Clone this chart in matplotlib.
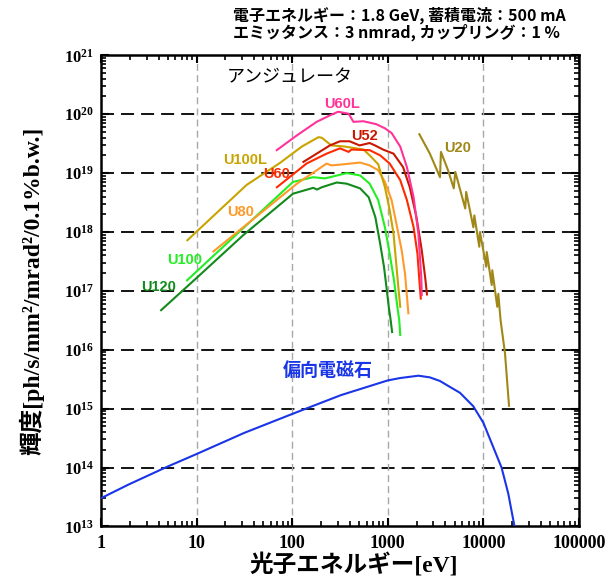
import math
import matplotlib
matplotlib.use("Agg")
import matplotlib.pyplot as plt
from matplotlib.ticker import LogLocator, FuncFormatter, NullFormatter

plt.rcParams['mathtext.fontset'] = 'custom'
plt.rcParams['mathtext.rm'] = 'Liberation Serif:bold'
plt.rcParams['mathtext.bf'] = 'Liberation Serif:bold'

# ---- data (photon energy [eV], brightness) ----
u120_e = [4.25, 10, 30.9, 102, 166, 182, 204, 292, 372, 513, 631, 741, 832, 912, 977, 1023, 1072, 1109]
u120_b = [4.7e16, 1.66e17, 8.9e17, 4.47e18, 5.62e18, 5.25e18, 5.75e18, 6.92e18, 6.61e18, 5.5e18,
          3.89e18, 1.78e18, 6.3e17, 2.57e17, 1.02e17, 5.4e16, 3.16e16, 2.0e16]

u100_e = [7.94, 102, 166, 219, 248, 372, 513, 646, 794, 933, 1047, 1161, 1259, 1318, 1349]
u100_b = [1.51e17, 7.08e18, 8.51e18, 8.13e18, 8.51e18, 1.0e19, 9.12e18, 6.61e18, 3.47e18, 1.2e18,
          4.27e17, 1.51e17, 5.37e16, 3.16e16, 1.78e16]

u80_e = [15.0, 112, 229, 257, 343, 513, 646, 794, 933, 1096, 1230, 1396, 1514, 1641]
u80_b = [4.68e17, 6.61e18, 1.45e19, 1.35e19, 1.41e19, 1.51e19, 1.35e19, 1.12e19, 7.08e18, 3.47e18,
         1.38e18, 4.9e17, 1.95e17, 4.17e16]

u60_e = [69.2, 141, 229, 316, 389, 417, 646, 832, 1047, 1349, 1585, 1862, 2042, 2138, 2213]
u60_b = [5.75e18, 1.45e19, 2.14e19, 2.63e19, 2.29e19, 2.51e19, 2.45e19, 2.0e19, 1.45e19, 7.59e18,
         3.47e18, 1.2e18, 4.27e17, 1.51e17, 7.41e16]

u52_e = [131, 248, 316, 398, 507, 646, 735, 891, 1148, 1445, 1698, 1995, 2265, 2455, 2570]
u52_b = [1.55e19, 2.95e19, 3.47e19, 3.47e19, 2.95e19, 3.24e19, 2.95e19, 2.51e19, 2.14e19, 1.26e19,
         5.75e18, 1.78e18, 4.9e17, 1.74e17, 8.7e16]

u60l_e = [68.9, 112, 180, 248, 302, 389, 437, 556, 759, 933, 1096, 1349, 1585, 1862, 2089, 2239, 2265]
u60l_b = [2.45e19, 4.37e19, 7.41e19, 9.55e19, 1.1e20, 1.02e20, 7.41e19, 7.59e19, 6.76e19, 5.75e19,
          4.79e19, 2.82e19, 1.26e19, 3.89e18, 9.33e17, 1.74e17, 8.5e16]

u100l_e = [8.0, 33.4, 74.1, 126, 188, 204, 257, 355, 556, 646, 794, 933, 1047, 1148, 1216, 1288, 1349]
u100l_b = [7.24e17, 6.31e18, 1.48e19, 2.82e19, 4.07e19, 3.98e19, 2.95e19, 2.82e19, 2.51e19, 2.0e19,
           1.41e19, 5.75e18, 2.34e18, 9.33e17, 3.31e17, 1.17e17, 5.37e16]

u20_e = [2138, 2754, 3516, 3597, 4266, 4898, 5082, 6457, 6607, 7852, 8035, 9057, 9204, 10715,
         10839, 12218, 12388, 13964, 14322, 15136, 16827, 18535]
u20_b = [4.57e19, 2.14e19, 8.51e18, 2.29e19, 1.12e19, 5.5e18, 1.05e19, 2.51e18, 4.79e18, 1.2e18,
         1.91e18, 5.62e17, 1.0e18, 2.57e17, 4.57e17, 1.26e17, 2.24e17, 5.37e16, 8.91e16, 3.16e16,
         8.71e15, 1.12e15]

bm_e = [1, 1.93, 4.84, 10, 31.6, 100, 324, 1000, 1343, 2089, 2754, 3516, 4467, 5689, 7834, 10000,
        12589, 15488, 18197, 21038, 22100]
bm_b = [3.02e13, 5.13e13, 1.02e14, 1.7e14, 3.89e14, 8.13e14, 1.7e15, 3.02e15, 3.31e15, 3.63e15,
        3.4e15, 2.95e15, 2.34e15, 1.86e15, 1.1e15, 5.75e14, 2.29e14, 1.0e14, 3.63e13, 1.05e13, 6.8e12]

# name, energies, brightness, colour, label x, label y
curves = [
    ("U120", u120_e, u120_b, "#128a1c", 3.98, 1.15e17),
    ("U100", u100_e, u100_b, "#22ee22", 7.57, 3.3e17),
    ("U80", u80_e, u80_b, "#ff9a2a", 29, 2.19e18),
    ("U100L", u100l_e, u100l_b, "#c8a400", 32, 1.7e19),
    ("U60", u60_e, u60_b, "#ff2a00", 68.9, 9.5e18),
    ("U52", u52_e, u52_b, "#c81800", 570, 4.27e19),
    ("U60L", u60l_e, u60l_b, "#ff3399", 336, 1.48e20),
    ("U20", u20_e, u20_b, "#a08818", 5333, 2.63e19),
]
bm_color = "#1a35e8"

x_ticks = [1, 10, 100, 1000, 10000, 100000]
y_ticks = [1e13, 1e14, 1e15, 1e16, 1e17, 1e18, 1e19, 1e20, 1e21]

title1 = "電子エネルギー：1.8 GeV, 蓄積電流：500 mA"
title2 = "エミッタンス：3 nmrad, カップリング：1 %"
xlabel = "光子エネルギー[eV]"
ylabel = "輝度[ph/s/mm²/mrad²/0.1%b.w.]"

fig = plt.figure(figsize=(6.05, 5.76), dpi=100)
ax = fig.add_axes([0.167, 0.086, 0.790, 0.818])
ax.set_xscale("log")
ax.set_yscale("log")

# grid: black dashed on brightness decades, gray dashed on energy decades
for v in y_ticks[1:-1]:
    ax.axhline(v, color="black", lw=1.3, dashes=(7.2, 3.9), zorder=1)
for v in x_ticks[1:-1]:
    ax.axvline(v, color="#a8a8a8", lw=1.0, dashes=(5, 3), zorder=1)

for name, e, b, c, lx, ly in curves:
    ax.plot(e, b, color=c, lw=1.5, zorder=3)
    ax.text(lx, ly, name, color=c, fontsize=10.5, fontweight="bold",
            family="Liberation Sans", ha="center", va="center", zorder=4)

ax.plot(bm_e, bm_b, color=bm_color, lw=1.5, zorder=3)
ax.text(237, 4.47e15, "偏向電磁石", color=bm_color, fontsize=13, fontweight="bold",
        family="Noto Sans CJK JP", ha="center", va="center", zorder=4)
ax.text(95, 4.27e20, "アンジュレータ", color="black", fontsize=13,
        family="Noto Sans CJK JP", ha="center", va="center", zorder=4)

for s in ax.spines.values():
    s.set_linewidth(1.8)

ax.set_xticks(x_ticks)
ax.set_yticks(y_ticks)
ax.xaxis.set_minor_locator(LogLocator(base=10, subs=range(2, 10), numticks=10))
ax.yaxis.set_minor_locator(LogLocator(base=10, subs=range(2, 10), numticks=12))
ax.xaxis.set_major_formatter(FuncFormatter(lambda v, pos: "%d" % round(v)))
ax.yaxis.set_major_formatter(FuncFormatter(lambda v, pos: r"$\mathbf{10^{%d}}$" % round(math.log10(v))))
ax.xaxis.set_minor_formatter(NullFormatter())
ax.yaxis.set_minor_formatter(NullFormatter())
ax.set_xlim(1, 1e5)
ax.set_ylim(1e13, 1e21)
ax.tick_params(which="both", direction="in", top=True, right=True)
ax.tick_params(which="major", length=6, width=1.5)
ax.tick_params(which="minor", length=3.5, width=1.2)
for lab in ax.get_xticklabels():
    lab.set_family("Liberation Serif")
    lab.set_fontweight("bold")
    lab.set_fontsize(13)
for lab in ax.get_yticklabels():
    lab.set_fontsize(12)
ax.tick_params(axis="x", pad=6)
ax.tick_params(axis="y", pad=5)

fig.text(354 / 605, 1 - 565 / 576, xlabel, fontsize=17, fontweight="bold",
         family=["Liberation Serif", "Noto Sans CJK JP"], ha="center", va="center")
fig.text(32 / 605, 1 - 291 / 576, ylabel, fontsize=17, fontweight="bold", rotation=90,
         family=["Liberation Serif", "Noto Sans CJK JP"], ha="center", va="center")

fig.text(233 / 605, 1 - 15 / 576, title1, fontsize=11.5, fontweight="bold",
         family=["Noto Sans CJK JP"], ha="left", va="center")
fig.text(233 / 605, 1 - 32 / 576, title2, fontsize=11.5, fontweight="bold",
         family=["Noto Sans CJK JP"], ha="left", va="center")

fig.savefig("out.png", dpi=100)
